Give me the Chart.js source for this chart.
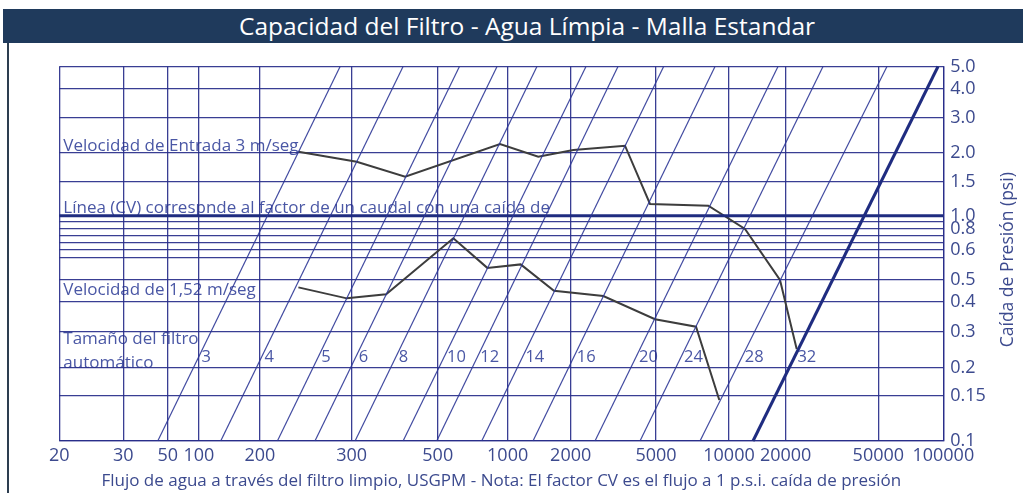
<!DOCTYPE html>
<html>
<head>
<meta charset="utf-8">
<script src="https://cdn.jsdelivr.net/npm/chart.js@4.4.1/dist/chart.umd.min.js"></script>
<style>
  body { margin: 0; background: #fff; }
  #wrap { position: relative; width: 1023px; height: 493px; overflow: hidden; }
  #bar { position: absolute; left: 3px; top: 9px; width: 1020px; height: 34px; box-sizing: border-box;
         padding-left: 28px; background: #1f3a5c; color: #fff; font: 24.5px "Open Sans", sans-serif;
         line-height: 34px; text-align: center; }
  #edge { position: absolute; left: 7px; top: 43px; width: 2px; height: 450px; background: #2d3e50; }
  #c { position: absolute; left: 0; top: 0; }
</style>
</head>
<body>
<div id="wrap">
  <canvas id="c"></canvas>
  <div id="bar">Capacidad del Filtro - Agua Límpia - Malla Estandar</div>
  <div id="edge"></div>
</div>
<script>
// flow axis (USGPM) and pressure axis (psi)
var xTickValues = [20, 30, 50, 100, 200, 300, 500, 1000, 2000, 5000, 10000, 20000, 50000, 100000];
var yGridValues = [0.1, 0.15, 0.2, 0.3, 0.4, 0.5, 0.55, 0.6, 0.67, 0.73, 0.8, 0.9, 1, 1.5, 2, 3, 4, 5];
var yTickLabels = ['0.1', '0.15', '0.2', '0.3', '0.4', '0.5', '', '0.6', '', '', '0.8', '', '1.0', '1.5', '2.0', '3.0', '4.0', '5.0'];

// filter sizes: flow where each size line meets 0.1 psi and 5 psi
var sizes = [3, 4, 5, 6, 8, 10, 12, 14, 16, 20, 24, 28, 32];
var sizeFlowLow = [44.6, 128, 216, 255, 306, 407, 497, 773, 1321, 2596, 4210, 7593, 13410];
var sizeFlowHigh = [285, 407, 620, 900, 1380, 2357, 3324, 5377, 8757, 18205, 28930, 54820, 94500];

// velocity 3 m/s curve
var v3Flow = [237, 309, 412, 927, 1400, 2057, 3584, 4688, 8215, 12160, 18654, 22300];
var v3Psi = [2.03, 1.835, 1.581, 2.216, 1.928, 2.07, 2.174, 1.151, 1.128, 0.8, 0.5, 0.248];

// velocity 1.52 m/s curve
var v152Flow = [237, 293.5, 368, 583.5, 817, 1154, 1664, 2839, 4947, 7310, 9119];
var v152Psi = [0.464, 0.415, 0.4325, 0.71, 0.527, 0.535, 0.4486, 0.425, 0.339, 0.3156, 0.1447];

// CV line
var cvPsi = 1.0;

// where each tick sits along its axis (percent) - the chart's axes are hand drawn, not true log
var xTickPos = [0, 7.24, 12.26, 15.80, 22.70, 33.08, 42.81, 50.72, 57.85, 67.50, 75.76, 82.17, 92.65, 100];
var yGridPos = [0, 12.02, 19.49, 29.11, 37.12, 42.99, 48.86, 51.0, 52.87, 54.74, 56.61, 58.48, 60.16, 69.16, 76.90, 86.38, 93.99, 100];

var WARPS = {
  x: { values: xTickValues, pos: xTickPos },
  y: { values: yGridValues, pos: yGridPos }
};

function warpDecimal(w, v) {
  var n = w.values.length;
  var lv = Math.log(v);
  for (var i = 0; i < n - 1; i++) {
    if (v <= w.values[i + 1] || i === n - 2) {
      var a = Math.log(w.values[i]), b = Math.log(w.values[i + 1]);
      var t = (lv - a) / (b - a);
      return (w.pos[i] + t * (w.pos[i + 1] - w.pos[i])) / 100;
    }
  }
  return 0;
}

function unwarp(w, d) {
  var p = d * 100;
  var n = w.values.length;
  for (var i = 0; i < n - 1; i++) {
    if (p <= w.pos[i + 1] || i === n - 2) {
      var t = (p - w.pos[i]) / (w.pos[i + 1] - w.pos[i]);
      return w.values[i] * Math.pow(w.values[i + 1] / w.values[i], t);
    }
  }
  return w.values[0];
}

class WarpScale extends Chart.Scale {
  determineDataLimits() {
    var w = WARPS[this.id];
    this.min = w.values[0];
    this.max = w.values[w.values.length - 1];
  }
  buildTicks() {
    return WARPS[this.id].values.map(function (v) { return { value: v }; });
  }
  getLabelForValue(v) { return String(v); }
  getPixelForValue(v) { return this.getPixelForDecimal(warpDecimal(WARPS[this.id], v)); }
  getValueForPixel(p) { return unwarp(WARPS[this.id], this.getDecimalForPixel(p)); }
}
WarpScale.id = 'warp';
WarpScale.defaults = {};
Chart.register(WarpScale);

var gridColor = 'rgba(40,46,138,0.92)';
var lineColor = 'rgba(44,54,150,0.9)';
var boldColor = '#1f2c80';
var curveColor = '#3d3d3d';
var textColor = '#4a57a5';
var tickColor = '#3c4a8e';

var datasets = [];
sizes.forEach(function (s, i) {
  var last = i === sizes.length - 1;
  datasets.push({
    label: 'Tamaño ' + s,
    data: [{ x: sizeFlowLow[i], y: yGridValues[0] }, { x: sizeFlowHigh[i], y: yGridValues[yGridValues.length - 1] }],
    borderColor: last ? boldColor : lineColor,
    borderWidth: last ? 3 : 1.2,
    pointRadius: 0
  });
});
datasets.push({
  label: 'Línea (CV)',
  data: [{ x: xTickValues[0], y: cvPsi }, { x: xTickValues[xTickValues.length - 1], y: cvPsi }],
  borderColor: boldColor, borderWidth: 3, pointRadius: 0
});
datasets.push({
  label: 'Velocidad de Entrada 3 m/seg',
  data: v3Flow.map(function (f, i) { return { x: f, y: v3Psi[i] }; }),
  borderColor: curveColor, borderWidth: 2, pointRadius: 0
});
datasets.push({
  label: 'Velocidad de 1,52 m/seg',
  data: v152Flow.map(function (f, i) { return { x: f, y: v152Psi[i] }; }),
  borderColor: curveColor, borderWidth: 2, pointRadius: 0
});

// notes written inside the plot: [text, flow, psi]
var notes = [
  ['Velocidad de Entrada 3 m/seg', 20, 2.17],
  ['Línea (CV) correspnde al factor de un caudal con una caída de', 20, 1.1],
  ['Velocidad de 1,52 m/seg', 20, 0.452],
  ['Tamaño del filtro', 20, 0.277],
  ['automático', 20, 0.2116]
];
var sizeLabelPsi = 0.226;

var textPlugin = {
  id: 'texts',
  beforeDraw: function (chart) {
    var ctx = chart.ctx, xs = chart.scales.x, ys = chart.scales.y;
    ctx.save();
    ctx.fillStyle = textColor;
    ctx.textBaseline = 'middle';
    ctx.textAlign = 'left';
    ctx.font = '17px "Open Sans"';
    notes.forEach(function (n) {
      ctx.fillText(n[0], xs.getPixelForValue(n[1]) + 4, ys.getPixelForValue(n[2]));
    });
    ctx.font = '16.5px "Open Sans"';
    var yl = ys.getPixelForValue(sizeLabelPsi);
    sizes.forEach(function (s, i) {
      var xb = xs.getPixelForValue(sizeFlowLow[i]), yb = ys.getPixelForValue(yGridValues[0]);
      var xt = xs.getPixelForValue(sizeFlowHigh[i]), yt = ys.getPixelForValue(yGridValues[yGridValues.length - 1]);
      var xl = xb + (xt - xb) * (yb - yl) / (yb - yt);
      ctx.fillText(String(s), xl + 3, yl);
    });
    // right axis title, reading upwards
    ctx.fillStyle = tickColor;
    ctx.font = '17.5px "Open Sans"';
    ctx.textAlign = 'center';
    ctx.translate(1008, (ys.top + ys.bottom) / 2 + 6);
    ctx.rotate(-Math.PI / 2);
    ctx.fillText('Caída de Presión (psi)', 0, 0);
    ctx.restore();
  }
};

new Chart(document.getElementById('c'), {
  type: 'line',
  data: { datasets: datasets },
  plugins: [textPlugin],
  options: {
    responsive: true,
    maintainAspectRatio: false,
    animation: false,
    layout: { padding: { left: 59.3, top: 66.5, right: 0, bottom: 0 } },
    plugins: { legend: { display: false }, tooltip: { enabled: false } },
    scales: {
      x: {
        type: 'warp',
        position: 'bottom',
        afterFit: function (s) { s.height = 52; },
        grid: { color: gridColor, lineWidth: 1.3, drawTicks: false },
        border: { color: gridColor, width: 1.3 },
        ticks: {
          autoSkip: false, maxRotation: 0, minRotation: 0, padding: 4,
          color: tickColor, font: { family: 'Open Sans', size: 18 },
          callback: function (v, i) { return String(xTickValues[i]); }
        },
        title: {
          display: true,
          text: 'Flujo de agua a través del filtro limpio, USGPM - Nota: El factor CV es el flujo a 1 p.s.i. caída de presión',
          color: tickColor, font: { family: 'Open Sans', size: 17 }, padding: { top: 0, bottom: 2 }
        }
      },
      y: {
        type: 'warp',
        position: 'right',
        afterFit: function (s) { s.width = 79.7; },
        grid: { color: gridColor, lineWidth: 1.3, drawTicks: false },
        border: { color: gridColor, width: 1.3 },
        ticks: {
          autoSkip: false, padding: 7,
          color: tickColor, font: { family: 'Open Sans', size: 18 },
          callback: function (v, i) { return yTickLabels[i]; }
        }
      }
    }
  }
});
</script>
</body>
</html>
